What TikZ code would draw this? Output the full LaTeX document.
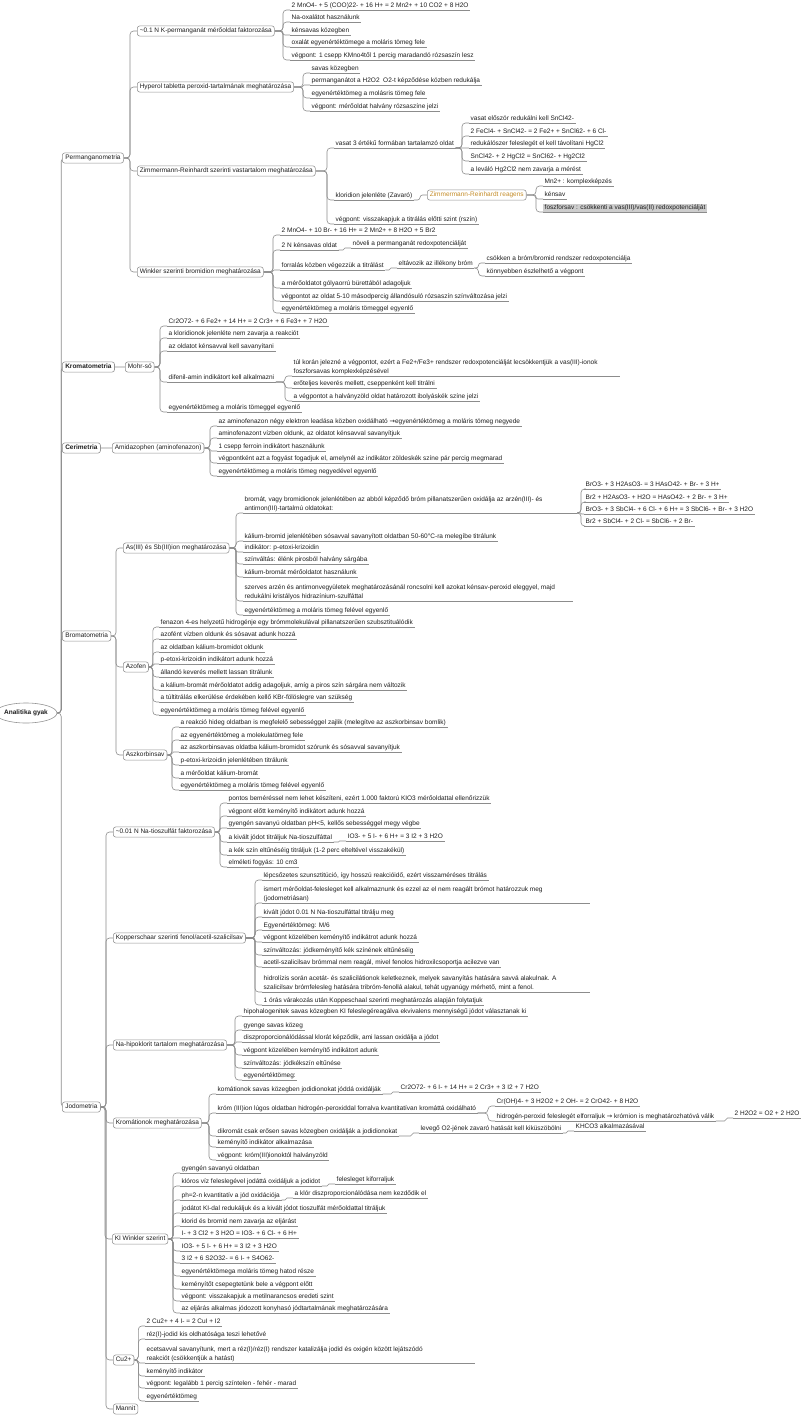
\documentclass[tikz,border=0pt]{standalone}
\usepackage{fontspec}
\setmainfont{Liberation Sans}
\newfontfamily\arrfont{DejaVu Sans}
\usetikzlibrary{calc,shapes.geometric}
\newcommand\fs{\fontsize{6.5}{9.5}\selectfont}
\newcommand\mystrut{\rule[-1.4pt]{0pt}{1pt}}
\newcommand\arr{{\arrfont →}}
\newcommand\cb[2]{%
 \path let \p1=(#1), \p2=(#2) in \pgfextra{\pgfmathsetmacro\rr{max(0.01,min(3.5,abs(\y2-\y1)/2))}\global\let\myrr\rr};
 \draw[conn, rounded corners=\myrr pt] let \p1=(#1), \p2=(#2), \n1={max(\x1+4pt,\x2-7pt)} in (\p1) -- (\n1,\y1) |- (\p2);}
\definecolor{linec}{RGB}{140,140,140}
\definecolor{boxc}{RGB}{150,150,150}
\definecolor{txt}{RGB}{30,30,30}
\definecolor{orng}{RGB}{196,140,40}
\definecolor{hl}{RGB}{205,205,205}
\pgfdeclarelayer{bg}
\pgfsetlayers{bg,main}
\begin{document}
\begin{tikzpicture}[x=1pt,y=-1pt,
 conn/.style={draw=linec, line width=0.6pt},
 uline/.style={draw=linec, line width=0.6pt},
 leaf/.style={anchor=south west, inner xsep=1.5pt, inner ysep=0.6pt, text height=4.8pt, text depth=1.4pt, font=\fs, text=txt,
   append after command={(\tikzlastnode.south west) edge[uline] (\tikzlastnode.south east)}},
 mleaf/.style={anchor=south west, inner xsep=1.5pt, inner ysep=0.6pt, font=\fs, text=txt, align=left},
 box/.style={anchor=west, draw=boxc, line width=0.6pt, rounded corners=2.5pt, fill=white, inner xsep=2.5pt, inner ysep=2pt, text height=4.8pt, text depth=1.4pt, font=\fs, text=txt},
 topbox/.style={box, inner xsep=3pt},
 rootnode/.style={ellipse, draw=boxc, line width=0.6pt, fill=white, minimum width=51pt, minimum height=20pt, inner sep=0pt, font=\fs\bfseries, text=txt}
]
\useasboundingbox (0,0) rectangle (800,1415);
\begin{pgfonlayer}{bg}
\fill[white] (0,0) rectangle (800,1415);
\end{pgfonlayer}

% root and top level
\node[rootnode] (R) at (26,713) {Analitika gyak};
\node[topbox] (P) at (62,158) {Permanganometria};
\node[topbox, font=\fs\bfseries] (K) at (62,367) {Kromatometria};
\node[topbox, font=\fs\bfseries] (C) at (62,448) {Cerimetria};
\node[topbox] (B) at (62,636) {Bromatometria};
\node[topbox] (J) at (62,1107) {Jodometria};

% ---------------- Permanganometria
\node[box] (P1) at (137,31) {\textasciitilde 0.1 N K-permanganát mérőoldat faktorozása};
\node[leaf] (P1a) at (290,10) {2 MnO4- + 5 (COO)22- + 16 H+ = 2 Mn2+ + 10 CO2 + 8 H2O};
\node[leaf] (P1b) at (290,22) {Na-oxalátot használunk};
\node[leaf] (P1c) at (290,35) {kénsavas közegben};
\node[leaf] (P1d) at (290,47) {oxalát egyenértéktömege a moláris tömeg fele};
\node[leaf] (P1e) at (290,60) {végpont: 1 csepp KMno4től 1 percig maradandó rózsaszín lesz};

\node[box] (P2) at (137,87) {Hyperol tabletta peroxid-tartalmának meghatározása};
\node[leaf] (P2a) at (310,73) {savas közegben};
\node[leaf] (P2b) at (310,85) {permanganátot a H2O2\ \ O2-t képződése közben redukálja};
\node[leaf] (P2c) at (310,98) {egyenértéktömeg a molásris tömeg fele};
\node[leaf] (P2d) at (310,111) {végpont: mérőoldat halvány rózsaszíne jelzi};

\node[box] (P3) at (137,171) {Zimmermann-Reinhardt szerinti vastartalom meghatározása};
\node[leaf] (P3a) at (334,148) {vasat 3 értékű formában tartalamzó oldat};
\node[leaf] (P3a1) at (469,123) {vasat először redukálni kell SnCl42-};
\node[leaf] (P3a2) at (469,136) {2 FeCl4- + SnCl42- = 2 Fe2+ + SnCl62- + 6 Cl-};
\node[leaf] (P3a3) at (469,148) {redukálószer feleslegét el kell távolítani HgCl2};
\node[leaf] (P3a4) at (469,161) {SnCl42- + 2 HgCl2 = SnCl62- + Hg2Cl2};
\node[leaf] (P3a5) at (469,174) {a leváló Hg2Cl2 nem zavarja a mérést};
\node[leaf] (P3b) at (334,200) {kloridion jelenléte (Zavaró)};
\node[box, text=orng] (ZR) at (427,195) {Zimmermann-Reinhardt reagens};
\node[leaf] (Z1) at (543,186) {Mn2+ : komplexképzés};
\node[leaf] (Z2) at (543,199) {kénsav};
\node[leaf, fill=hl] (Z3) at (543,212) {foszforsav : csökkenti a vas(III)/vas(II) redoxpotenciálját};
\node[leaf] (P3c) at (334,224) {végpont: visszakapjuk a titrálás előtti szint (rszín)};

\node[box] (P4) at (137,272) {Winkler szerinti bromidion meghatározása};
\node[leaf] (P4a) at (280,235) {2 MnO4- + 10 Br- + 16 H+ = 2 Mn2+ + 8 H2O + 5 Br2};
\node[leaf] (P4b) at (280,250) {2 N kénsavas oldat};
\node[leaf] (P4b1) at (351,248) {növeli a permanganát redoxpotenciálját};
\node[leaf] (P4c) at (280,270) {forralás közben végezzük a titrálást};
\node[leaf] (P4c1) at (397,268) {eltávozik az illékony bróm};
\node[leaf] (P4c1a) at (485,263) {csökken a bróm/bromid rendszer redoxpotenciálja};
\node[leaf] (P4c1b) at (485,276) {könnyebben észlelhető a végpont};
\node[leaf] (P4d) at (280,288) {a mérőoldatot gólyaorrú bürettából adagoljuk};
\node[leaf] (P4e) at (280,301) {végpontot az oldat 5-10 másodpercig állandósuló rózsaszín színváltozása jelzi};
\node[leaf] (P4f) at (280,313) {egyenértéktömeg a moláris tömeggel egyenlő};

% ---------------- Kromatometria
\node[box] (K1) at (125,367) {Mohr-só};
\node[leaf] (K1a) at (167,326) {Cr2O72- + 6 Fe2+ + 14 H+ = 2 Cr3+ + 6 Fe3+ + 7 H2O};
\node[leaf] (K1b) at (167,338) {a kloridionok jelenléte nem zavarja a reakciót};
\node[leaf] (K1c) at (167,351) {az oldatot kénsavval kell savanyítani};
\node[leaf] (K1d) at (167,382) {difenil-amin indikátort kell alkalmazni};
\node[mleaf] (K1d1) at (292,376) {túl korán jelezné a végpontot, ezért a Fe2+/Fe3+ rendszer redoxpotenciálját lecsökkentjük a vas(III)-ionok\\foszforsavas komplexképzésével\mystrut};
\draw[uline] (K1d1.south west) -- ++(328,0) coordinate (K1d1e);
\node[leaf] (K1d2) at (292,388) {erőteljes keverés mellett, cseppenként kell titrálni};
\node[leaf] (K1d3) at (292,401) {a végpontot a halványzöld oldat határozott ibolyáskék színe jelzi};
\node[leaf] (K1e) at (167,412) {egyenértéktömeg a moláris tömeggel egyenlő};

% ---------------- Cerimetria
\node[box] (C1) at (112,448) {Amidazophen (aminofenazon)};
\node[leaf] (C1a) at (217,426) {az aminofenazon négy elektron leadása közben oxidálható \arr egyenértéktömeg a moláris tömeg negyede};
\node[leaf] (C1b) at (217,438) {aminofenazont vízben oldunk, az oldatot kénsavval savanyítjuk};
\node[leaf] (C1c) at (217,451) {1 csepp ferroin indikátort használunk};
\node[leaf] (C1d) at (217,463) {végpontként azt a fogyást fogadjuk el, amelynél az indikátor zöldeskék színe pár percig megmarad};
\node[leaf] (C1e) at (217,476) {egyenértéktömeg a moláris tömeg negyedével egyenlő};

% ---------------- Bromatometria
\node[box] (B1) at (123,548) {As(III) és Sb(III)ion meghatározása};
\node[mleaf] (B1a) at (243,513) {bromát, vagy bromidionok jelenlétében az abból képződő bróm pillanatszerűen oxidálja az arzén(III)- és\\antimon(III)-tartalmú oldatokat:\mystrut};
\draw[uline] (B1a.south west) -- ++(334,0) coordinate (B1ae);
\node[leaf] (B1a1) at (584,489) {BrO3- + 3 H2AsO3- = 3 HAsO42- + Br- + 3 H+};
\node[leaf] (B1a2) at (584,502) {Br2 + H2AsO3- + H2O = HAsO42- + 2 Br- + 3 H+};
\node[leaf] (B1a3) at (584,514) {BrO3- + 3 SbCl4- + 6 Cl- + 6 H+ = 3 SbCl6- + Br- + 3 H2O};
\node[leaf] (B1a4) at (584,526) {Br2 + SbCl4- + 2 Cl- = SbCl6- + 2 Br-};
\node[leaf] (B1b) at (243,541) {kálium-bromid jelenlétében sósavval savanyított oldatban 50-60°C-ra melegíbe titrálunk};
\node[leaf] (B1c) at (243,552) {indikátor: p-etoxi-krizoidin};
\node[leaf] (B1d) at (243,564) {színváltás: élénk pirosból halvány sárgába};
\node[leaf] (B1e) at (243,577) {kálium-bromát mérőoldatot használunk};
\node[mleaf] (B1f) at (243,601) {szerves arzén és antimonvegyületek meghatározásánál roncsolni kell azokat kénsav-peroxid eleggyel, majd\\redukálni kristályos hidrazínium-szulfáttal\mystrut};
\draw[uline] (B1f.south west) -- ++(330,0);
\node[leaf] (B1g) at (243,615) {egyenértéktömeg a moláris tömeg felével egyenlő};

\node[box] (B2) at (123,667) {Azofen};
\node[leaf] (B2a) at (159,627) {fenazon 4-es helyzetű hidrogénje egy brómmolekulával pillanatszerűen szubsztituálódik};
\node[leaf] (B2b) at (159,639) {azofént vízben oldunk és sósavat adunk hozzá};
\node[leaf] (B2c) at (159,652) {az oldatban kálium-bromidot oldunk};
\node[leaf] (B2d) at (159,664) {p-etoxi-krizoidin indikátort adunk hozzá};
\node[leaf] (B2e) at (159,677) {állandó keverés mellett lassan titrálunk};
\node[leaf] (B2f) at (159,690) {a kálium-bromát mérőoldatot addig adagoljuk, amíg a piros szín sárgára nem változik};
\node[leaf] (B2g) at (159,702) {a túltitrálás elkerülése érdekében kellő KBr-fölöslegre van szükség};
\node[leaf] (B2h) at (159,715) {egyenértéktömeg a moláris tömeg felével egyenlő};

\node[box] (B3) at (123,755) {Aszkorbinsav};
\node[leaf] (B3a) at (179,727) {a reakció hideg oldatban is megfelelő sebességgel zajlik (melegítve az aszkorbinsav bomlik)};
\node[leaf] (B3b) at (179,740) {az egyenértéktömeg a molekulatömeg fele};
\node[leaf] (B3c) at (179,752) {az aszkorbinsavas oldatba kálium-bromidot szórunk és sósavval savanyítjuk};
\node[leaf] (B3d) at (179,765) {p-etoxi-krizoidin jelenlétében titrálunk};
\node[leaf] (B3e) at (179,778) {a mérőoldat kálium-bromát};
\node[leaf] (B3f) at (179,790) {egyenértéktömeg a moláris tömeg felével egyenlő};

% ---------------- Jodometria
\node[box] (J1) at (113,832) {\textasciitilde 0.01 N Na-tioszulfát faktorozása};
\node[leaf] (J1a) at (227,803) {pontos beméréssel nem lehet készíteni, ezért 1.000 faktorú KIO3 mérőoldattal ellenőrizzük};
\node[leaf] (J1b) at (227,816) {végpont előtt keményítő indikátort adunk hozzá};
\node[leaf] (J1c) at (227,828) {gyengén savanyú oldatban pH<5, kellős sebességgel megy végbe};
\node[leaf] (J1d) at (227,842) {a kivált jódot titráljuk Na-tioszulfáttal};
\node[leaf] (J1d1) at (346,841) {IO3- + 5 I- + 6 H+ = 3 I2 + 3 H2O};
\node[leaf] (J1e) at (227,855) {a kék szín eltűnéséig titráljuk (1-2 perc elteltével visszakékül)};
\node[leaf] (J1f) at (227,867) {elméleti fogyás: 10 cm3};

\node[box] (J2) at (113,938) {Kopperschaar szerinti fenol/acetil-szalicilsav};
\node[leaf] (J2a) at (262,880) {lépcsőzetes szunsztitúció, így hosszú reakcióidő, ezért visszaméréses titrálás};
\node[mleaf] (J2b) at (262,903) {ismert mérőoldat-felesleget kell alkalmaznunk és ezzel az el nem reagált brómot határozzuk meg\\(jodometriásan)\mystrut};
\draw[uline] (J2b.south west) -- ++(328,0);
\node[leaf] (J2c) at (262,917) {kivált jódot 0.01 N Na-tioszulfáttal titrálju meg};
\node[leaf] (J2d) at (262,930) {Egyenértéktömeg: M/6};
\node[leaf] (J2e) at (262,942) {végpont közelében keményítő indikátrot adunk hozzá};
\node[leaf] (J2f) at (262,955) {színváltozás: jódkeményítő kék színének eltűnéséig};
\node[leaf] (J2g) at (262,967) {acetil-szalicilsav brómmal nem reagál, mivel fenolos hidroxilcsoportja acilezve van};
\node[mleaf] (J2h) at (262,992) {hidrolízis során acetát- és szalicilátionok keletkeznek, melyek savanyítás hatására savvá alakulnak. A\\szalicilsav brómfelesleg hatására tribróm-fenollá alakul, tehát ugyanúgy mérhető, mint a fenol.\mystrut};
\draw[uline] (J2h.south west) -- ++(328,0);
\node[leaf] (J2i) at (262,1005) {1 órás várakozás után Koppeschaal szerinti meghatározás alapján folytatjuk};

\node[box] (J3) at (113,1045) {Na-hipoklorit tartalom meghatározása};
\node[leaf] (J3a) at (242,1016) {hipohalogenitek savas közegben KI feleslegéreagálva ekvivalens mennyiségű jódot választanak ki};
\node[leaf] (J3b) at (242,1030) {gyenge savas közeg};
\node[leaf] (J3c) at (242,1042) {diszproporcionálódással klorát képződik, ami lassan oxidálja a jódot};
\node[leaf] (J3d) at (242,1055) {végpont közelében keményítő indikátort adunk};
\node[leaf] (J3e) at (242,1068) {színváltozás: jódkékszín eltűnése};
\node[leaf] (J3f) at (242,1080) {egyenértéktömeg:};

\node[box] (J4) at (113,1123) {Kromátionok meghatározása};
\node[leaf] (J4a) at (216,1094) {komátionok savas közegben jodidionokat jóddá oxidálják};
\node[leaf] (J4a1) at (399,1092) {Cr2O72- + 6 I- + 14 H+ = 2 Cr3+ + 3 I2 + 7 H2O};
\node[leaf] (J4b) at (216,1113) {króm (III)ion lúgos oldatban hidrogén-peroxiddal forralva kvantitatívan kromáttá oxidálható};
\node[leaf] (J4b1) at (495,1106) {Cr(OH)4- + 3 H2O2 + 2 OH- = 2 CrO42- + 8 H2O};
\node[leaf] (J4b2) at (495,1121) {hidrogén-peroxid feleslegét elforraljuk \arr\ krómion is meghatározhatóvá válik};
\node[leaf] (J4b2a) at (733,1118) {2 H2O2 = O2 + 2 H2O};
\node[leaf] (J4c) at (216,1136) {dikromát csak erősen savas közegben oxidálják a jodidionokat};
\node[leaf] (J4c1) at (419,1133) {levegő O2-jének zavaró hatását kell kiküszöbölni};
\node[leaf] (J4c1a) at (574,1131) {KHCO3 alkalmazásával};
\node[leaf] (J4d) at (216,1147) {keményítő indikátor alkalmazása};
\node[leaf] (J4e) at (216,1160) {végpont: króm(III)ionoktól halványzöld};

\node[box] (J5) at (112,1239) {KI Winkler szerint};
\node[leaf] (J5a) at (180,1173) {gyengén savanyú oldatban};
\node[leaf] (J5b) at (180,1186) {klóros víz feleslegével jodáttá oxidáljuk a jodidot};
\node[leaf] (J5b1) at (335,1184) {felesleget kiforraljuk};
\node[leaf] (J5c) at (180,1200) {ph=2-n kvantitatív a jód oxidációja};
\node[leaf] (J5c1) at (293,1198) {a klór diszproporcionálódása nem kezdődik el};
\node[leaf] (J5d) at (180,1213) {jodátot KI-dal redukáljuk és a kivált jódot tioszulfát mérőoldattal titráljuk};
\node[leaf] (J5e) at (180,1226) {klorid és bromid nem zavarja az eljárást};
\node[leaf] (J5f) at (180,1238) {I- + 3 Cl2 + 3 H2O = IO3- + 6 Cl- + 6 H+};
\node[leaf] (J5g) at (180,1251) {IO3- + 5 I- + 6 H+ = 3 I2 + 3 H2O};
\node[leaf] (J5h) at (180,1263) {3 I2 + 6 S2O32- = 6 I- + S4O62-};
\node[leaf] (J5i) at (180,1276) {egyenértéktömega moláris tömeg hatod része};
\node[leaf] (J5j) at (180,1289) {keményítőt csepegtetünk bele a végpont előtt};
\node[leaf] (J5k) at (180,1301) {végpont: visszakapjuk a metilnarancsos eredeti szint};
\node[leaf] (J5l) at (180,1313) {az eljárás alkalmas jódozott konyhasó jódtartalmának meghatározására};

\node[box] (J6) at (113,1360) {Cu2+};
\node[leaf] (J6a) at (145,1326) {2 Cu2+ + 4 I- = 2 CuI + I2};
\node[leaf] (J6b) at (145,1339) {réz(I)-jodid kis oldhatósága teszi lehetővé};
\node[mleaf] (J6c) at (145,1363) {ecetsavval savanyítunk, mert a réz(I)/réz(I) rendszer katalizálja jodid és oxigén között lejátszódó\\reakciót (csökkentjük a hatást)\mystrut};
\draw[uline] (J6c.south west) -- ++(330,0);
\node[leaf] (J6d) at (145,1376) {keményítő indikátor};
\node[leaf] (J6e) at (145,1388) {végpont: legalább 1 percig színtelen - fehér - marad};
\node[leaf] (J6f) at (145,1401) {egyenértéktömeg};

\node[box] (J7) at (113,1409) {Mannit};

% ---------------- connectors
\begin{pgfonlayer}{bg}
\foreach \c in {P,K,C,B,J} {\cb{R.east}{\c.west}}
\foreach \c in {P1,P2,P3,P4} {\cb{P.east}{\c.west}}
\foreach \c in {P1a,P1b,P1c,P1d,P1e} {\cb{P1.east}{\c.south west}}
\foreach \c in {P2a,P2b,P2c,P2d} {\cb{P2.east}{\c.south west}}
\foreach \c in {P3a,P3b,P3c} {\cb{P3.east}{\c.south west}}
\foreach \c in {P3a1,P3a2,P3a3,P3a4,P3a5} {\cb{P3a.south east}{\c.south west}}
\cb{P3b.south east}{ZR.west}
\foreach \c in {Z1,Z2,Z3} {\cb{ZR.east}{\c.south west}}
\foreach \c in {P4a,P4b,P4c,P4d,P4e,P4f} {\cb{P4.east}{\c.south west}}
\cb{P4b.south east}{P4b1.south west}
\cb{P4c.south east}{P4c1.south west}
\foreach \c in {P4c1a,P4c1b} {\cb{P4c1.south east}{\c.south west}}
\cb{K.east}{K1.west}
\foreach \c in {K1a,K1b,K1c,K1d,K1e} {\cb{K1.east}{\c.south west}}
\foreach \c in {K1d1,K1d2,K1d3} {\cb{K1d.south east}{\c.south west}}
\cb{C.east}{C1.west}
\foreach \c in {C1a,C1b,C1c,C1d,C1e} {\cb{C1.east}{\c.south west}}
\foreach \c in {B1,B2,B3} {\cb{B.east}{\c.west}}
\foreach \c in {B1a,B1b,B1c,B1d,B1e,B1f,B1g} {\cb{B1.east}{\c.south west}}
\foreach \c in {B1a1,B1a2,B1a3,B1a4} {\cb{B1ae}{\c.south west}}
\foreach \c in {B2a,B2b,B2c,B2d,B2e,B2f,B2g,B2h} {\cb{B2.east}{\c.south west}}
\foreach \c in {B3a,B3b,B3c,B3d,B3e,B3f} {\cb{B3.east}{\c.south west}}
\foreach \c in {J1,J2,J3,J4,J5,J6,J7} {\cb{J.east}{\c.west}}
\foreach \c in {J1a,J1b,J1c,J1d,J1e,J1f} {\cb{J1.east}{\c.south west}}
\cb{J1d.south east}{J1d1.south west}
\foreach \c in {J2a,J2b,J2c,J2d,J2e,J2f,J2g,J2h,J2i} {\cb{J2.east}{\c.south west}}
\foreach \c in {J3a,J3b,J3c,J3d,J3e,J3f} {\cb{J3.east}{\c.south west}}
\foreach \c in {J4a,J4b,J4c,J4d,J4e} {\cb{J4.east}{\c.south west}}
\cb{J4a.south east}{J4a1.south west}
\foreach \c in {J4b1,J4b2} {\cb{J4b.south east}{\c.south west}}
\cb{J4b2.south east}{J4b2a.south west}
\cb{J4c.south east}{J4c1.south west}
\cb{J4c1.south east}{J4c1a.south west}
\foreach \c in {J5a,J5b,J5c,J5d,J5e,J5f,J5g,J5h,J5i,J5j,J5k,J5l} {\cb{J5.east}{\c.south west}}
\cb{J5b.south east}{J5b1.south west}
\cb{J5c.south east}{J5c1.south west}
\foreach \c in {J6a,J6b,J6c,J6d,J6e,J6f} {\cb{J6.east}{\c.south west}}
\end{pgfonlayer}
\end{tikzpicture}
\end{document}
